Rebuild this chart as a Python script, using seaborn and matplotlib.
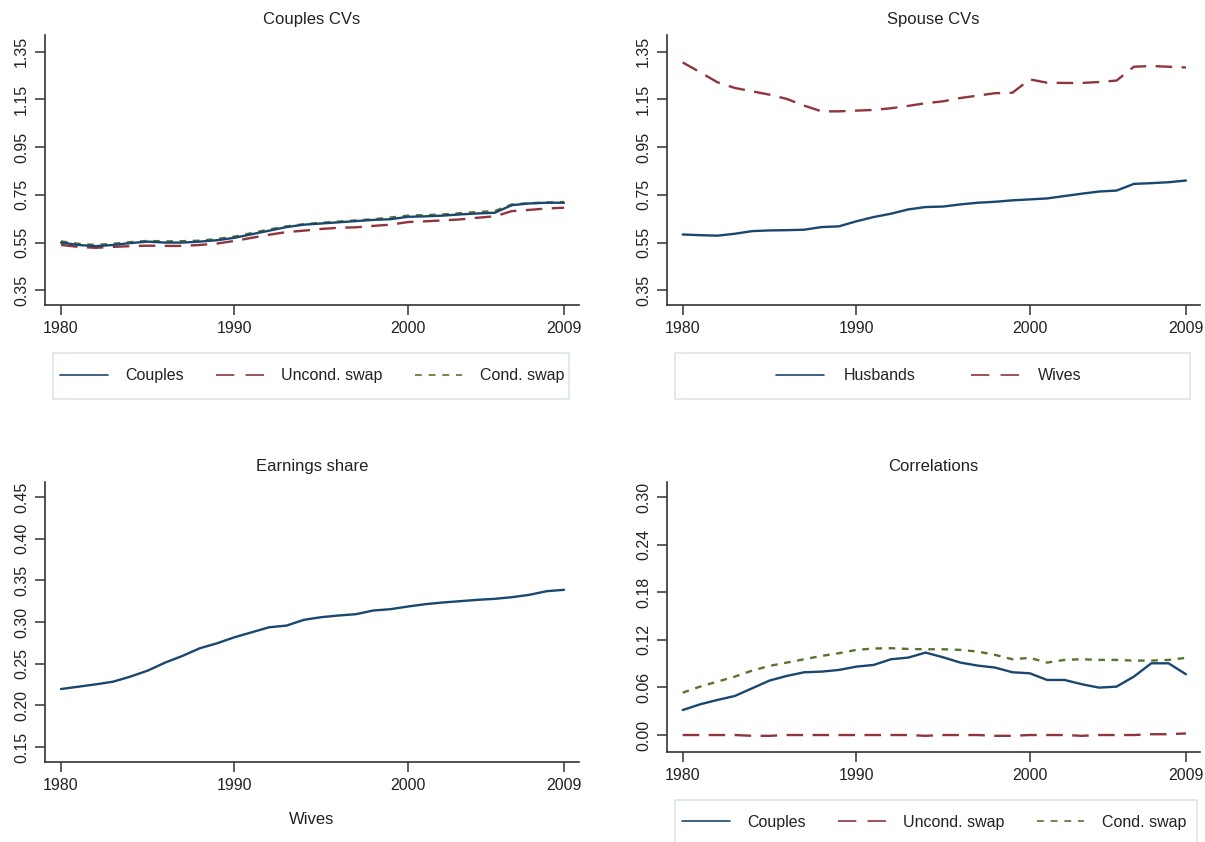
import matplotlib
matplotlib.use("Agg")
import matplotlib.pyplot as plt
from matplotlib.patches import Rectangle
from matplotlib.lines import Line2D
import seaborn as sns
import pandas as pd

# ---------------- data ----------------
years = [1980, 1981, 1982, 1983, 1984, 1985, 1986, 1987, 1988, 1989,
         1990, 1991, 1992, 1993, 1994, 1995, 1996, 1997, 1998, 1999,
         2000, 2001, 2002, 2003, 2004, 2005, 2006, 2007, 2008, 2009]

couples_cv = [0.550, 0.540, 0.535, 0.540, 0.548, 0.554, 0.550, 0.550, 0.554, 0.560,
              0.570, 0.585, 0.600, 0.615, 0.625, 0.630, 0.635, 0.640, 0.645, 0.648,
              0.658, 0.660, 0.663, 0.668, 0.672, 0.675, 0.707, 0.714, 0.717, 0.717]
uncond_cv = [0.540, 0.532, 0.528, 0.532, 0.535, 0.537, 0.536, 0.536, 0.540, 0.546,
             0.557, 0.570, 0.583, 0.594, 0.600, 0.607, 0.612, 0.614, 0.620, 0.625,
             0.636, 0.639, 0.643, 0.647, 0.654, 0.660, 0.682, 0.687, 0.693, 0.696]
cond_cv = [0.555, 0.545, 0.540, 0.545, 0.552, 0.557, 0.555, 0.556, 0.558, 0.565,
           0.575, 0.590, 0.605, 0.618, 0.627, 0.633, 0.638, 0.643, 0.648, 0.655,
           0.663, 0.665, 0.668, 0.673, 0.678, 0.682, 0.710, 0.715, 0.718, 0.720]

husbands_cv = [0.584, 0.581, 0.579, 0.587, 0.598, 0.601, 0.602, 0.604, 0.615, 0.618,
               0.639, 0.657, 0.671, 0.689, 0.699, 0.701, 0.710, 0.717, 0.721, 0.727,
               0.731, 0.735, 0.745, 0.755, 0.764, 0.768, 0.796, 0.799, 0.803, 0.810]
wives_cv = [1.305, 1.264, 1.222, 1.198, 1.184, 1.170, 1.152, 1.124, 1.100, 1.100,
            1.103, 1.106, 1.113, 1.123, 1.134, 1.142, 1.156, 1.166, 1.176, 1.178,
            1.234, 1.220, 1.219, 1.219, 1.223, 1.229, 1.287, 1.290, 1.287, 1.284]

wives_share = [0.2196, 0.2224, 0.2252, 0.2284, 0.2345, 0.2417, 0.2513, 0.2593, 0.2685, 0.2745,
               0.2817, 0.2877, 0.2937, 0.2957, 0.3026, 0.3058, 0.3078, 0.3094, 0.3138, 0.3154,
               0.3186, 0.3214, 0.3234, 0.3250, 0.3266, 0.3278, 0.3298, 0.3326, 0.3370, 0.3386]

corr_couples = [0.0315, 0.0387, 0.0442, 0.0492, 0.0589, 0.0686, 0.0745, 0.0791, 0.0799, 0.0820,
                0.0862, 0.0883, 0.0955, 0.0976, 0.1039, 0.0980, 0.0913, 0.0875, 0.0850, 0.0791,
                0.0778, 0.0694, 0.0694, 0.0640, 0.0597, 0.0610, 0.0736, 0.0904, 0.0904, 0.0766]
corr_uncond = [0.000, 0.000, 0.000, 0.000, -0.001, -0.001, 0.000, 0.000, 0.000, 0.000,
               0.000, 0.000, 0.000, 0.000, -0.001, 0.000, 0.000, 0.000, -0.001, -0.001,
               0.000, 0.000, 0.000, -0.001, 0.000, 0.000, 0.000, 0.001, 0.001, 0.002]
corr_cond = [0.0534, 0.0610, 0.0673, 0.0736, 0.0812, 0.0871, 0.0913, 0.0955, 0.0997, 0.1031,
             0.1073, 0.1090, 0.1094, 0.1085, 0.1081, 0.1081, 0.1073, 0.1052, 0.1010, 0.0955,
             0.0972, 0.0913, 0.0947, 0.0955, 0.0947, 0.0947, 0.0938, 0.0938, 0.0947, 0.0972]

xticks = [1980, 1990, 2000, 2009]
cv_ticks = [0.35, 0.55, 0.75, 0.95, 1.15, 1.35]
share_ticks = [0.15, 0.20, 0.25, 0.30, 0.35, 0.40, 0.45]
corr_ticks = [0.00, 0.06, 0.12, 0.18, 0.24, 0.30]

# ---------------- style ----------------
sns.set_theme(style="white")
plt.rcParams["font.family"] = ["Liberation Sans", "DejaVu Sans"]
TXT = "#222222"
NAVY = "#1a476f"
MAROON = "#90353b"
GREEN = "#55752f"
LONG = (0, (7, 4))
SHORT = (0, (2.8, 2.8))
LEG_LONG = (0, (11, 6.75))
LEG_SHORT = (0, (4.1, 4.1))
LW = 1.7

W, H = 1205, 842
fig = plt.figure(figsize=(W / 100, H / 100), dpi=100)


def fx(px):
    return px / W


def fy(py):
    return 1 - py / H


def make_ax(left, top, right, bottom):
    return fig.add_axes([fx(left), fy(bottom), fx(right - left), (bottom - top) / H])


ax_tl = make_ax(45, 35, 579, 305)
ax_tr = make_ax(667, 35, 1200, 305)
ax_bl = make_ax(45, 482, 579, 761.7)
ax_br = make_ax(667, 482, 1200, 752)


def style_ax(ax, title, yt, ylim, xlim, fmt):
    ax.set_xlim(*xlim)
    ax.set_ylim(*ylim)
    ax.set_xticks(xticks)
    ax.set_xticklabels([str(v) for v in xticks], fontsize=11.5, color=TXT)
    ax.set_yticks(yt)
    ax.set_yticklabels([fmt.format(v) for v in yt], fontsize=11.5, color=TXT,
                       rotation=90, va="center")
    for s in ["top", "right"]:
        ax.spines[s].set_visible(False)
    for s in ["left", "bottom"]:
        ax.spines[s].set_color("#333333")
        ax.spines[s].set_linewidth(1.2)
    ax.tick_params(axis="both", which="both", direction="out", length=7.5,
                   width=1.1, color="#333333", bottom=True, left=True)
    ax.tick_params(axis="x", pad=4)
    ax.tick_params(axis="y", pad=4)
    ax.set_xlabel("")
    ax.set_ylabel("")
    ax.set_title(title, fontsize=12, color=TXT, pad=8)
    ax.set_facecolor("white")


def draw(ax, y, color, ls):
    df = pd.DataFrame({"year": years, "value": y})
    sns.lineplot(data=df, x="year", y="value", ax=ax, color=color,
                 linestyle=ls, linewidth=LW, legend=False)


# Couples CVs
draw(ax_tl, uncond_cv, MAROON, LONG)
draw(ax_tl, cond_cv, GREEN, SHORT)
draw(ax_tl, couples_cv, NAVY, "-")
style_ax(ax_tl, "Couples CVs", cv_ticks, (0.2884, 1.42), (1979.077, 2009.865), "{:.2f}")

# Spouse CVs
draw(ax_tr, husbands_cv, NAVY, "-")
draw(ax_tr, wives_cv, MAROON, LONG)
style_ax(ax_tr, "Spouse CVs", cv_ticks, (0.2884, 1.42), (1979.095, 2009.81), "{:.2f}")

# Earnings share
draw(ax_bl, wives_share, NAVY, "-")
style_ax(ax_bl, "Earnings share", share_ticks, (0.1324, 0.468), (1979.077, 2009.865), "{:.2f}")

# Correlations
draw(ax_br, corr_uncond, MAROON, LONG)
draw(ax_br, corr_cond, GREEN, SHORT)
draw(ax_br, corr_couples, NAVY, "-")
style_ax(ax_br, "Correlations", corr_ticks, (-0.0214, 0.3189), (1979.095, 2009.81), "{:.2f}")

# ---------------- legends ----------------
def box(left, top, right, bottom):
    fig.patches.append(Rectangle((fx(left), fy(bottom)), fx(right - left), (bottom - top) / H,
                                 transform=fig.transFigure, fill=False,
                                 edgecolor="#dde5ea", linewidth=1.2, zorder=0))


def handle(color, ls):
    return Line2D([], [], color=color, linestyle=ls, linewidth=1.2)


three = [handle(NAVY, "-"), handle(MAROON, LEG_LONG), handle(GREEN, LEG_SHORT)]
three_labels = ["Couples", "Uncond. swap", "Cond. swap"]

box(53, 353, 569, 399)
fig.legend(three, three_labels, loc="center", bbox_to_anchor=(fx(312), fy(376)),
           ncol=3, frameon=False, fontsize=11.5, handlelength=3.0, handletextpad=1.1,
           columnspacing=2.0, labelcolor=TXT)

box(675, 353, 1190, 399)
fig.legend([handle(NAVY, "-"), handle(MAROON, LEG_LONG)], ["Husbands", "Wives"],
           loc="center", bbox_to_anchor=(fx(929), fy(376)), ncol=2, frameon=False,
           fontsize=11.5, handlelength=3.0, handletextpad=1.2, columnspacing=3.5,
           labelcolor=TXT)

box(675, 800, 1197, 850)
fig.legend(three, three_labels, loc="center", bbox_to_anchor=(fx(934), fy(822)),
           ncol=3, frameon=False, fontsize=11.5, handlelength=3.0, handletextpad=1.1,
           columnspacing=2.0, labelcolor=TXT)

fig.text(fx(312), fy(820), "Wives", ha="center", va="center", fontsize=12, color=TXT)

fig.savefig("out.png", dpi=100, facecolor="white")
